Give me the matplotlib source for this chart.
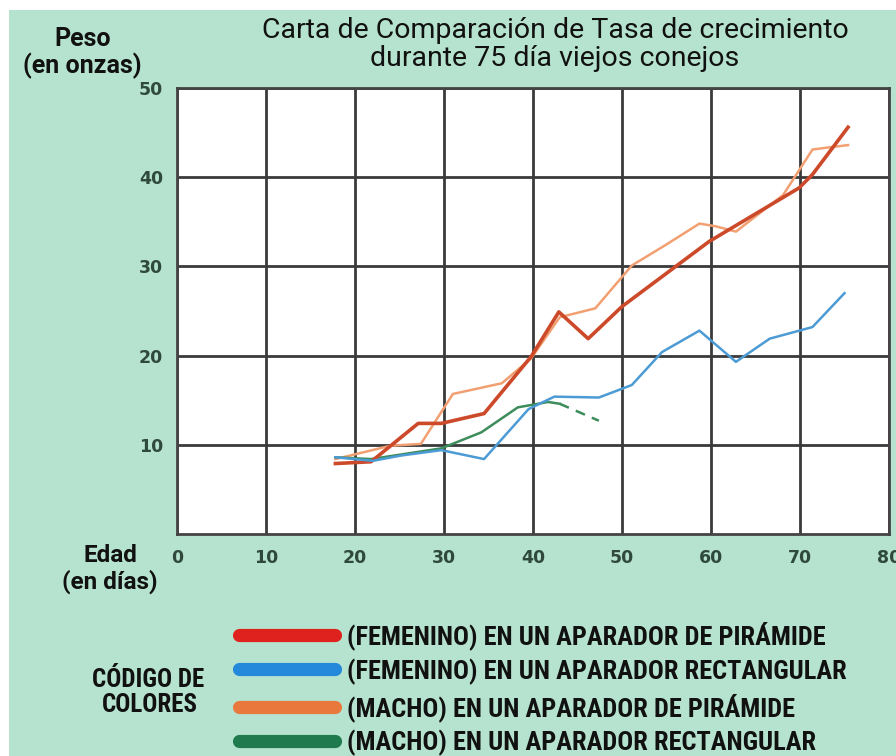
import matplotlib
matplotlib.use("Agg")
import matplotlib.pyplot as plt
from matplotlib.patches import Rectangle
from matplotlib.lines import Line2D
from matplotlib import font_manager as fm

# ---- data ----
red_x = [17.8, 21.8, 27.1, 29.7, 34.5, 39.8, 42.9, 46.2, 50.0, 59.8, 69.9, 71.4, 75.4]
red_y = [7.9, 8.1, 12.4, 12.4, 13.5, 19.9, 24.9, 21.9, 25.5, 32.8, 38.8, 40.3, 45.6]

orange_x = [17.8, 24.0, 27.4, 31.0, 36.5, 39.8, 43.0, 47.0, 51.1, 54.9, 58.7, 60.5, 62.8, 68.1, 71.4, 72.9, 75.4]
orange_y = [8.4, 9.9, 10.1, 15.7, 16.9, 19.7, 24.3, 25.3, 30.1, 32.4, 34.8, 34.5, 33.9, 38.0, 43.1, 43.3, 43.6]

blue_x = [17.8, 19.9, 22.0, 25.2, 29.7, 34.5, 39.5, 42.4, 47.4, 51.1, 54.5, 58.7, 62.8, 66.6, 71.4, 75.0]
blue_y = [8.6, 8.4, 8.2, 8.8, 9.4, 8.4, 14.0, 15.4, 15.3, 16.7, 20.4, 22.8, 19.3, 21.9, 23.2, 27.0]

green_x = [17.8, 21.8, 29.7, 34.2, 38.3, 41.7, 43.0]
green_y = [8.6, 8.4, 9.6, 11.4, 14.2, 14.8, 14.6]
green_dash_x = [43.0, 47.4]
green_dash_y = [14.6, 12.7]

x_ticks = [0, 10, 20, 30, 40, 50, 60, 70, 80]
y_ticks = [10, 20, 30, 40, 50]

legend_labels = [
    "(FEMENINO) EN UN APARADOR DE PIRÁMIDE",
    "(FEMENINO) EN UN APARADOR RECTANGULAR",
    "(MACHO) EN UN APARADOR DE PIRÁMIDE",
    "(MACHO) EN UN APARADOR RECTANGULAR",
]
legend_colors = ["#e0221e", "#2489db", "#e8783c", "#1f7a4e"]

title_lines = ["Carta de Comparación de Tasa de crecimiento",
               "durante 75 día viejos conejos"]
ylabel_lines = ["Peso", "(en onzas)"]
xlabel_lines = ["Edad", "(en días)"]
code_lines = ["CÓDIGO DE", "COLORES"]

# ---- font choice: families that have real (static) regular and bold faces ----
def has_static(name, bold):
    for f in fm.fontManager.ttflist:
        if f.name == name and f.style == "normal" and "[" not in f.fname:
            if (bold and f.weight in (700, "bold")) or (not bold and f.weight in (400, "normal", "regular")):
                return True
    return False


def pick(prefs, fallback):
    return next((p for p in prefs if has_static(p, True) and has_static(p, False)), fallback)


narrow = pick(["Arial Narrow", "Liberation Sans Narrow", "Roboto Condensed", "Fira Sans Condensed",
               "IBM Plex Sans Condensed", "Asap Condensed", "Encode Sans Condensed",
               "Barlow Semi Condensed", "Archivo Narrow", "PT Sans Narrow"], "Liberation Sans")
wide = pick(["Roboto", "Lato", "Liberation Sans"], "DejaVu Sans")
NARROW = [narrow, "DejaVu Sans"]
WIDE = [wide, "DejaVu Sans"]

BG = "#b6e3cf"
W, H = 896, 756

fig = plt.figure(figsize=(W / 100, H / 100), dpi=100, facecolor="white")
fig.patches.append(Rectangle((9 / W, 0), 1, 1 - 10 / H, transform=fig.transFigure,
                             facecolor=BG, edgecolor="none", zorder=-10))

ax = fig.add_axes([177 / W, 1 - 534 / H, (889 - 177) / W, (534 - 88) / H])
ax.set_facecolor("white")
ax.set_xlim(0, 80)
ax.set_ylim(0, 50)
ax.set_xticks(x_ticks)
ax.set_yticks(y_ticks)
ax.grid(True, color="#3a3a3a", linewidth=2.0)
ax.set_axisbelow(True)
for s in ax.spines.values():
    s.set_color("#444444")
    s.set_linewidth(2.0)
ax.tick_params(length=0)
ax.tick_params(axis="y", pad=10)
ax.tick_params(axis="x", pad=11)
for lab in ax.get_xticklabels() + ax.get_yticklabels():
    lab.set_fontfamily(["DejaVu Sans"])
    lab.set_fontweight("bold")
    lab.set_fontsize(12.5)
    lab.set_color("#2f4a3c")

ax.plot(orange_x, orange_y, color="#f2a072", linewidth=1.8, zorder=3)
ax.plot(red_x, red_y, color="#cc4a2a", linewidth=2.6, zorder=4)
ax.plot(green_x, green_y, color="#3d8c5c", linewidth=1.8, zorder=3)
ax.plot(green_dash_x, green_dash_y, color="#3d8c5c", linewidth=1.8,
        linestyle=(0, (4, 3)), zorder=3)
ax.plot(blue_x, blue_y, color="#4c9bd4", linewidth=1.8, zorder=5)

renderer = fig.canvas.get_renderer()


def fit_size(s, width_px, family, weight, max_pt):
    t = fig.text(0, 0, s, fontsize=16, family=family, fontweight=weight)
    w = t.get_window_extent(renderer).width
    t.remove()
    return min(16 * width_px / w, max_pt)


def put(cx, cy, s, size, family, weight="normal"):
    return fig.text(cx / W, 1 - cy / H, s, ha="center", va="center", fontsize=size,
                    family=family, fontweight=weight, color="#111111")


# titles and labels (centre x, centre y, width in pixels)
ts = fit_size(title_lines[0], 600, WIDE, "normal", 20.5)
put(555, 30, title_lines[0], ts, WIDE)
put(555, 58, title_lines[1], ts, WIDE)

ps = fit_size(ylabel_lines[1], 128, WIDE, "bold", 18)
put(83, 39, ylabel_lines[0], ps, WIDE, "bold")
put(82, 66, ylabel_lines[1], ps, WIDE, "bold")

es = fit_size(xlabel_lines[1], 110, WIDE, "bold", 17.5)
put(110, 556, xlabel_lines[0], es, WIDE, "bold")
put(110, 582, xlabel_lines[1], es, WIDE, "bold")

cs = fit_size(code_lines[0], 118, NARROW, "bold", 18)
put(148, 680, code_lines[0], cs, NARROW, "bold")
put(150, 705, code_lines[1], cs, NARROW, "bold")

# legend: font size chosen so that the longest label is as wide as in the reference
lfs = fit_size(legend_labels[1], 517, NARROW, "bold", 19)
fpx = lfs * 100 / 72
handles = [Line2D([0], [0], color=c, linewidth=9.5, solid_capstyle="round")
           for c in legend_colors]
leg = fig.legend(handles, legend_labels, loc="upper left",
                 bbox_to_anchor=(239 / W, 1 - 621 / H), frameon=False,
                 handlelength=96 / fpx, handletextpad=12 / fpx,
                 labelspacing=(34.8 - fpx) / fpx,
                 borderpad=0, borderaxespad=0,
                 prop={"family": NARROW, "weight": "bold", "size": lfs})
for t in leg.get_texts():
    t.set_color("#111111")

fig.savefig("out.png", dpi=100, facecolor=fig.get_facecolor())
